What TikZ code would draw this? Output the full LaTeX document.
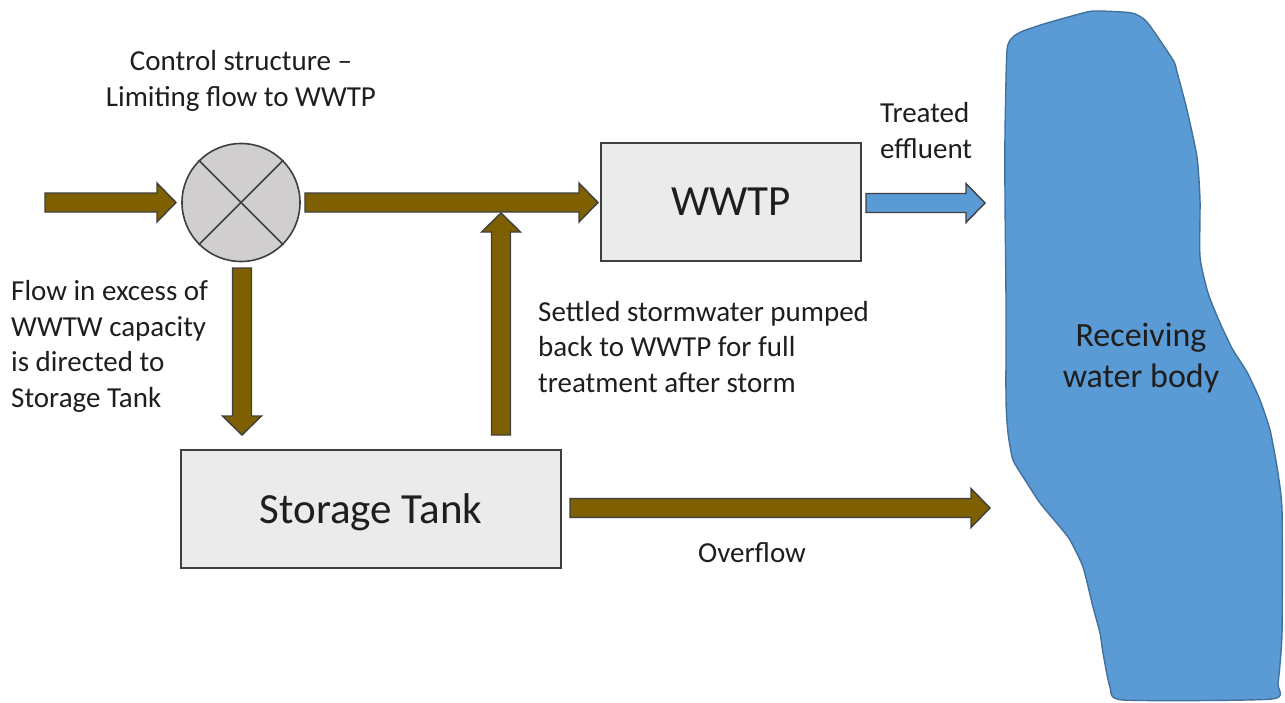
\documentclass[tikz,border=0pt]{standalone}
\usepackage{fontspec}
\setmainfont{Carlito}
\usetikzlibrary{calc}

\definecolor{flowbrown}{HTML}{7F6000}
\definecolor{waterblue}{HTML}{5B9BD5}
\definecolor{wateredge}{HTML}{41719C}
\definecolor{boxfill}{HTML}{EBEBEB}
\definecolor{valvefill}{HTML}{D0CECE}
\definecolor{edge}{HTML}{3F3F3F}
\definecolor{txt}{HTML}{1E1E1E}

% block arrow from tail #2 to tip #3 with style #1
\newcommand\blockarrow[3]{%
  \coordinate (ba-h) at ($(#3)!19pt!(#2)$);
  \draw[#1] ($(#2)!9.5pt!90:(#3)$) -- ($(ba-h)!9.5pt!90:(#3)$)
    -- ($(ba-h)!19.5pt!90:(#3)$) -- (#3) -- ($(ba-h)!19.5pt!-90:(#3)$)
    -- ($(ba-h)!9.5pt!-90:(#3)$) -- ($(#2)!9.5pt!-90:(#3)$) -- cycle;}

\begin{document}
\begin{tikzpicture}[x=1pt,y=-1pt,
  flow/.style={fill=flowbrown, draw=edge, line width=1.4pt, line join=miter},
  effluent/.style={fill=waterblue, draw=edge, line width=1.4pt, line join=miter},
  unit/.style={draw=edge, fill=boxfill, line width=1.6pt, inner sep=0pt,
    text=txt, font=\fontsize{43}{52}\selectfont, text depth=0pt},
  lbl/.style={text=txt, inner sep=0pt, font=\fontsize{29}{35.4}\selectfont},
  biglbl/.style={text=txt, inner sep=0pt, font=\fontsize{34}{40.5}\selectfont}]
\useasboundingbox (0,0) rectangle (1285,702);

% receiving water body
\draw[fill=waterblue, draw=wateredge, line width=1.4pt]
  plot[smooth cycle, tension=0.35] coordinates {
  (1007,50) (1013,37) (1023,31) (1047,23) (1087,12) (1100,11) (1132,13)
  (1147,22) (1173,60) (1177,72) (1187,110) (1197,157) (1200,200) (1200,257)
  (1208,293) (1220,323) (1233,350) (1247,372) (1260,400) (1270,430)
  (1277,467) (1282,510) (1282,633) (1278,683) (1272,699) (1123,700)
  (1110,687) (1103,653) (1100,633) (1093,607) (1083,567) (1070,540)
  (1060,527) (1040,503) (1027,483) (1013,460) (1008,433) (1006,400)
  (1006,300) (1005,200) (1005,133)};
\node[biglbl, anchor=base, align=center] (river) at (1141,387)
  {Receiving\\water body};

% control structure
\node[circle, draw=edge, fill=valvefill, line width=1.6pt,
      minimum size=118pt, inner sep=0pt] (ctrl) at (241,202.5) {};
\draw[edge, line width=1.6pt] (ctrl.north west) -- (ctrl.south east);
\draw[edge, line width=1.6pt] (ctrl.north east) -- (ctrl.south west);

% treatment works and storage tank
\node[unit, minimum width=260pt, minimum height=118pt] (wwtp) at (731,202) {WWTP};
\node[unit, minimum width=380pt, minimum height=118pt] (tank) at (371,509) {Storage Tank};

% connector end points
\coordinate (inflow) at (45,202.5);
\coordinate (ctrl-in) at (176,202.5);
\coordinate (ctrl-out) at (305,202.5);
\coordinate (wwtp-in) at (598,202.5);
\coordinate (wwtp-out) at (866,203);
\coordinate (river-in) at (985,203);
\coordinate (ctrl-down) at (242,268);
\coordinate (tank-in) at (242,435);
\coordinate (tank-up) at (501,435);
\coordinate (return) at (501,213);
\coordinate (tank-out) at (570,508);
\coordinate (river-over) at (990,508);

% flows
\blockarrow{flow}{inflow}{ctrl-in}
\blockarrow{flow}{ctrl-out}{wwtp-in}
\blockarrow{flow}{ctrl-down}{tank-in}
\blockarrow{flow}{tank-up}{return}
\blockarrow{flow}{tank-out}{river-over}
\blockarrow{effluent}{wwtp-out}{river-in}

% labels (base anchor sits on the last line)
\node[lbl, anchor=base, align=center] (ctrltxt) at (241,106)
  {Control structure --\\Limiting flow to WWTP};
\node[lbl, anchor=base west, align=left] (excess) at (11,407)
  {Flow in excess of\\WWTW capacity\\is directed to\\Storage Tank};
\node[lbl, anchor=base west, align=left] (settled) at (538,392)
  {Settled stormwater pumped\\back to WWTP for full\\treatment after storm};
\node[lbl, anchor=base west, align=left] (treated) at (880,158)
  {Treated\\effluent};
\node[lbl, anchor=base] (overflow) at (752,562) {Overflow};
\end{tikzpicture}
\end{document}
